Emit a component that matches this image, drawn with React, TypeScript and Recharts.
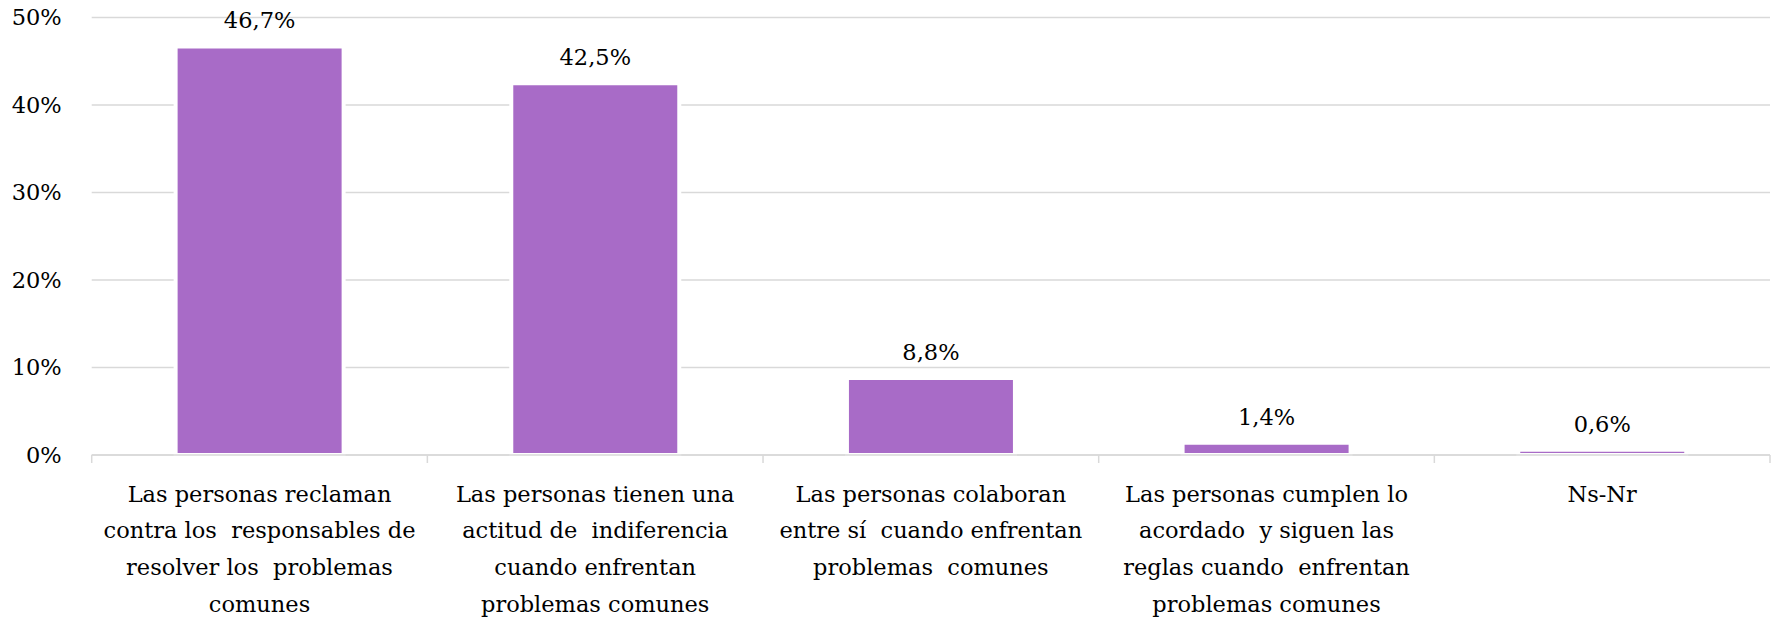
import React from 'react'
import { BarChart, Bar, XAxis, YAxis, CartesianGrid, LabelList } from 'recharts'

const categories = [
  'Las personas reclaman\ncontra los  responsables de\nresolver los  problemas\ncomunes',
  'Las personas tienen una\nactitud de  indiferencia\ncuando enfrentan\nproblemas comunes',
  'Las personas colaboran\nentre sí  cuando enfrentan\nproblemas  comunes',
  'Las personas cumplen lo\nacordado  y siguen las\nreglas cuando  enfrentan\nproblemas comunes',
  'Ns-Nr',
]
const values = [46.7, 42.5, 8.8, 1.4, 0.6]
const yTicks = [0, 10, 20, 30, 40, 50]

const data = categories.map((name, i) => ({ name, value: values[i] }))

const FONT = '"DejaVu Serif", serif'
const FONT_SIZE = 22.5
const GRID = '#d9d9d9'
const BAR = '#a86bc7'

const pct = (v: number) => `${v.toFixed(1).replace('.', ',')}%`

function CategoryTick(props: any) {
  const { x, y, payload, index } = props
  const half = payload.offset || 0
  const lines = String(payload.value).split('\n')
  return (
    <g>
      <line x1={x - half} x2={x - half} y1={y} y2={y + 8} stroke={GRID} strokeWidth={1.5} />
      {index === categories.length - 1 && (
        <line x1={x + half} x2={x + half} y1={y} y2={y + 8} stroke={GRID} strokeWidth={1.5} />
      )}
      <text
        x={x}
        y={y + 46.5}
        textAnchor="middle"
        fill="#000"
        fontFamily={FONT}
        fontSize={FONT_SIZE}
        style={{ whiteSpace: 'pre' }}
      >
        {lines.map((line, i) => (
          <tspan key={i} x={x} dy={i === 0 ? 0 : 36.7}>
            {line}
          </tspan>
        ))}
      </text>
    </g>
  )
}

export default function App() {
  return (
    <div style={{ width: 1776, height: 617, background: '#fff' }}>
      <style>{'body{margin:0}'}</style>
      <BarChart
        width={1776}
        height={617}
        data={data}
        margin={{ top: 17.5, right: 6, left: 0, bottom: 0 }}
        barCategoryGap="25%"
      >
        <CartesianGrid vertical={false} stroke={GRID} strokeWidth={1.5} />
        <XAxis
          dataKey="name"
          height={162}
          interval={0}
          axisLine={{ stroke: GRID, strokeWidth: 1.5 }}
          tickLine={false}
          tickSize={0}
          tickMargin={0}
          tick={<CategoryTick />}
        />
        <YAxis
          width={91.7}
          domain={[0, 50]}
          ticks={yTicks}
          interval={0}
          axisLine={false}
          tickLine={false}
          tickSize={0}
          tickMargin={30}
          tickFormatter={(v: number) => `${v}%`}
          tick={{ fill: '#000', fontSize: FONT_SIZE, fontFamily: FONT }}
        />
        <Bar dataKey="value" fill={BAR} stroke="#ffffff" strokeWidth={4} isAnimationActive={false}>
          <LabelList
            dataKey="value"
            position="top"
            offset={18}
            formatter={(v: number) => pct(v)}
            fill="#000"
            fontSize={FONT_SIZE}
            fontFamily={FONT}
          />
        </Bar>
      </BarChart>
    </div>
  )
}
